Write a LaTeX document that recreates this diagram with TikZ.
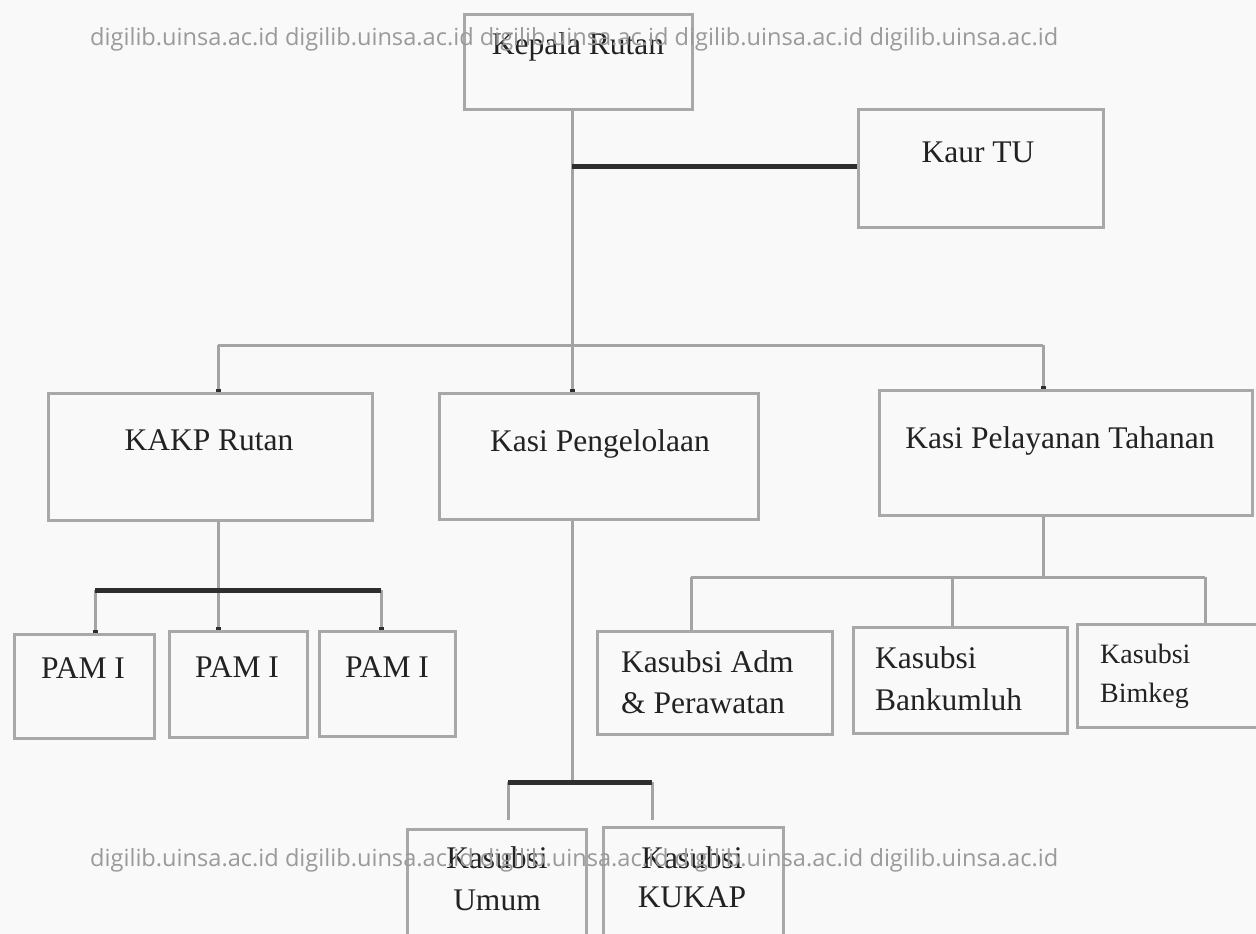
\documentclass[tikz,border=0pt]{standalone}
\usepackage{fontspec}
\setmainfont{Liberation Serif}
\newfontfamily\wmfont{Open Sans}
\usetikzlibrary{arrows.meta,calc}
\definecolor{boxgray}{HTML}{A8A8A8}
\definecolor{linegray}{HTML}{A4A4A4}
\definecolor{darkline}{HTML}{2E2E2E}
\definecolor{wmgray}{HTML}{9A9A9A}
\definecolor{paper}{HTML}{F9F9F9}
\definecolor{inkc}{HTML}{222222}
\begin{document}
\begin{tikzpicture}[x=1pt,y=-1pt,
  box/.style={draw=boxgray, line width=3pt, anchor=north west, inner sep=0pt},
  lbl/.style={font=\fontsize{31.5}{37}\selectfont, anchor=base, inner sep=0pt, text=inkc},
  lblw/.style={font=\fontsize{31.5}{37}\selectfont, anchor=base west, inner sep=0pt, text=inkc},
  lbls/.style={font=\fontsize{28}{33}\selectfont, anchor=base west, inner sep=0pt, text=inkc},
  conn/.style={draw=linegray, line width=3pt},
  thickln/.style={draw=darkline, line width=5pt},
  tipd/.style={-{Rectangle[length=3pt,width=5pt,color=darkline]}},
  wm/.style={font=\wmfont\fontsize{23.6}{28}\selectfont, text=wmgray, anchor=base west, inner sep=0pt}
]
\fill[paper] (0,0) rectangle (1256,934);
\useasboundingbox (0,0) rectangle (1256,934);
\clip (0,0) rectangle (1256,934);

% boxes
\node[box, minimum width=228pt, minimum height=95pt] (kep) at (463,13) {};
\node[box, minimum width=245pt, minimum height=118pt] (kaur) at (857,108) {};
\node[box, minimum width=324pt, minimum height=127pt] (kakp) at (47,392) {};
\node[box, minimum width=319pt, minimum height=126pt] (kpeng) at (438,392) {};
\node[box, minimum width=373pt, minimum height=125pt] (kpel) at (878,389) {};
\node[box, minimum width=140pt, minimum height=104pt] (pam1) at (13,633) {};
\node[box, minimum width=138pt, minimum height=106pt] (pam2) at (168,630) {};
\node[box, minimum width=136pt, minimum height=105pt] (pam3) at (318,630) {};
\node[box, minimum width=235pt, minimum height=103pt] (kadm) at (596,630) {};
\node[box, minimum width=214pt, minimum height=106pt] (kbank) at (852,626) {};
\node[box, minimum width=200pt, minimum height=103pt] (kbim) at (1076,623) {};
\node[box, minimum width=179pt, minimum height=130pt] (kumum) at (406,828) {};
\node[box, minimum width=180pt, minimum height=130pt] (kukap) at (602,826) {};

% labels
\node[lbl] (tkep) at (578,55) {Kepala Rutan};
\node[lbl] (tkaur) at (978,162) {Kaur TU};
\node[lbl] (tkakp) at (209,450) {KAKP Rutan};
\node[lbl] (tkpeng) at (600,451) {Kasi Pengelolaan};
\node[lbl] (tkpel) at (1060,448) {Kasi Pelayanan Tahanan};
\node[lbl] (tpam1) at (83,678) {PAM I};
\node[lbl] (tpam2) at (237,677) {PAM I};
\node[lbl] (tpam3) at (387,677) {PAM I};
\node[lblw] (tadm1) at (621,672) {Kasubsi Adm};
\node[lblw] (tadm2) at (621,713) {\& Perawatan};
\node[lblw] (tbank1) at (875,668) {Kasubsi};
\node[lblw] (tbank2) at (875,710) {Bankumluh};
\node[lbls] (tbim1) at (1100,663) {Kasubsi};
\node[lbls] (tbim2) at (1100,702) {Bimkeg};
\node[lbl] (tum1) at (497,868) {Kasubsi};
\node[lbl] (tum2) at (497,910) {Umum};
\node[lbl] (tuk1) at (692,868) {Kasubsi};
\node[lbl] (tuk2) at (692,907) {KUKAP};

% junction coordinates
\coordinate (jtop) at (572,166);
\coordinate (jl) at (218,345);
\coordinate (jr) at (1043,345);
\coordinate (pb) at (218,590);
\coordinate (pl) at (95,590);
\coordinate (pr) at (381,590);
\coordinate (sb) at (1043,577);
\coordinate (sl) at (691,577);
\coordinate (sm) at (952,577);
\coordinate (sr) at (1205,577);
\coordinate (ub) at (572,782);
\coordinate (ul) at (508,782);
\coordinate (ur) at (652,782);

% thin connectors
\draw[conn, tipd] (jtop |- kep.south) -- (jtop |- kpeng.north);
\draw[conn] (jl) -- (jr);
\draw[conn, tipd] (jl) -- (jl |- kakp.north);
\draw[conn, tipd] (jr) -- (jr |- kpel.north);
\draw[conn] (pb |- kakp.south) -- (pb);
\draw[conn, tipd] (pl) -- (pl |- pam1.north);
\draw[conn, tipd] (pb) -- (pb |- pam2.north);
\draw[conn, tipd] (pr) -- (pr |- pam3.north);
\draw[conn] (sb |- kpel.south) -- (sb);
\draw[conn] (sl) -- (sr);
\draw[conn] (sl) -- (sl |- kadm.north);
\draw[conn] (sm) -- (sm |- kbank.north);
\draw[conn] (sr) -- (sr |- kbim.north);
\draw[conn] (ub |- kpeng.south) -- (ub);
\draw[conn] (ul) -- ($(ul |- kumum.north)+(0,-8)$);
\draw[conn] (ur) -- ($(ur |- kukap.north)+(0,-6)$);

% thick bars
\draw[thickln] (jtop) -- (jtop -| kaur.west);
\draw[thickln] (pl) -- (pr);
\draw[thickln] (ul) -- (ur);

% watermark
\node[wm] (wm1) at (90,46) {digilib.uinsa.ac.id digilib.uinsa.ac.id digilib.uinsa.ac.id digilib.uinsa.ac.id digilib.uinsa.ac.id};
\node[wm] (wm2) at (90,866) {digilib.uinsa.ac.id digilib.uinsa.ac.id digilib.uinsa.ac.id digilib.uinsa.ac.id digilib.uinsa.ac.id};
\end{tikzpicture}
\end{document}
